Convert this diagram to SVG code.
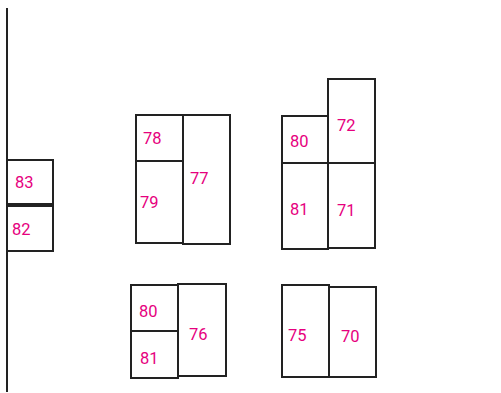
<svg xmlns="http://www.w3.org/2000/svg" width="501" height="393" viewBox="0 0 501 393">
<style>
.b{fill:#fff;stroke:#222;stroke-width:2}
.t{font-family:Roboto,"Liberation Sans",sans-serif;font-size:16.5px;fill:#e6007e}
.l{stroke:#222;stroke-width:2;fill:none}
</style>
<rect width="501" height="393" fill="#fff"/>
<g id="connectors">
<line class="l" x1="7" y1="8" x2="7" y2="392"/>
</g>
<g id="n83"><rect class="b" x="7" y="160" width="46" height="44"/><text class="t" x="15" y="188">83</text></g>
<g id="n82"><rect class="b" x="7" y="206" width="46" height="45"/><text class="t" x="12" y="235">82</text></g>
<g id="n78"><rect class="b" x="136" y="115" width="47" height="46"/><text class="t" x="143" y="144">78</text></g>
<g id="n79"><rect class="b" x="136" y="161" width="47" height="82"/><text class="t" x="140" y="208">79</text></g>
<g id="n77"><rect class="b" x="183" y="115" width="47" height="129"/><text class="t" x="190" y="184">77</text></g>
<g id="n80a"><rect class="b" x="282" y="116" width="46" height="47"/><text class="t" x="290" y="147">80</text></g>
<g id="n81a"><rect class="b" x="282" y="163" width="46" height="86"/><text class="t" x="290" y="215">81</text></g>
<g id="n72"><rect class="b" x="328" y="79" width="47" height="84"/><text class="t" x="337" y="131">72</text></g>
<g id="n71"><rect class="b" x="328" y="163" width="47" height="85"/><text class="t" x="337" y="216">71</text></g>
<g id="n80b"><rect class="b" x="131" y="285" width="47" height="46"/><text class="t" x="139" y="317">80</text></g>
<g id="n81b"><rect class="b" x="131" y="331" width="47" height="47"/><text class="t" x="140" y="364">81</text></g>
<g id="n76"><rect class="b" x="178" y="284" width="48" height="92"/><text class="t" x="189" y="340">76</text></g>
<g id="n75"><rect class="b" x="282" y="285" width="47" height="92"/><text class="t" x="288" y="341">75</text></g>
<g id="n70"><rect class="b" x="329" y="287" width="47" height="90"/><text class="t" x="341" y="342">70</text></g>
</svg>
